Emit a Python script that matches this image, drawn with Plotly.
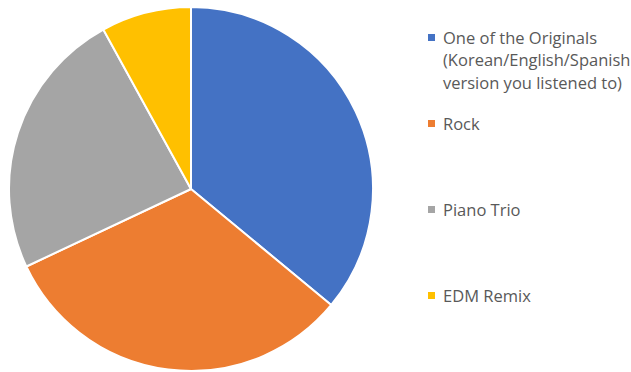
import plotly.graph_objects as go

# Survey responses: preferred version of the song
categories = [
    "One of the Originals<br>(Korean/English/Spanish<br>version you listened to)",
    "Rock",
    "Piano Trio",
    "EDM Remix",
]
votes = [9, 8, 6, 2]
colors = ["#4472C4", "#ED7D31", "#A5A5A5", "#FFC000"]

W, H = 631, 372

fig = go.Figure(
    go.Pie(
        labels=[c.replace("<br>", " ") for c in categories],
        values=votes,
        sort=False,
        direction="clockwise",
        rotation=0,
        marker=dict(colors=colors, line=dict(color="white", width=2)),
        textinfo="none",
        hoverinfo="label+value+percent",
        domain=dict(x=[9 / W, 373 / W], y=[1 / H, 365 / H]),
        showlegend=False,
    )
)

# Custom legend on the right, items spread evenly down the chart
text_font = dict(family="Open Sans, Noto Sans, sans-serif", size=16.5, color="#595959")
first_y = 37.5
step = 86
line_h = 22.5
annotations = []
shapes = []
for i, (label, col) in enumerate(zip(categories, colors)):
    cy = first_y + i * step
    shapes.append(
        dict(
            type="rect", xref="paper", yref="paper",
            x0=428 / W, x1=435 / W,
            y0=1 - (cy + 3.5) / H, y1=1 - (cy - 3.5) / H,
            fillcolor=col, line=dict(width=0),
        )
    )
    for j, line in enumerate(label.split("<br>")):
        annotations.append(
            dict(
                text=line, xref="paper", yref="paper",
                x=441 / W, y=1 - (cy + j * line_h) / H,
                xanchor="left", yanchor="middle",
                showarrow=False, font=text_font,
            )
        )

fig.update_layout(
    width=W, height=H,
    margin=dict(l=0, r=0, t=0, b=0),
    paper_bgcolor="white",
    plot_bgcolor="white",
    annotations=annotations,
    shapes=shapes,
)

fig.write_html("out.html")
